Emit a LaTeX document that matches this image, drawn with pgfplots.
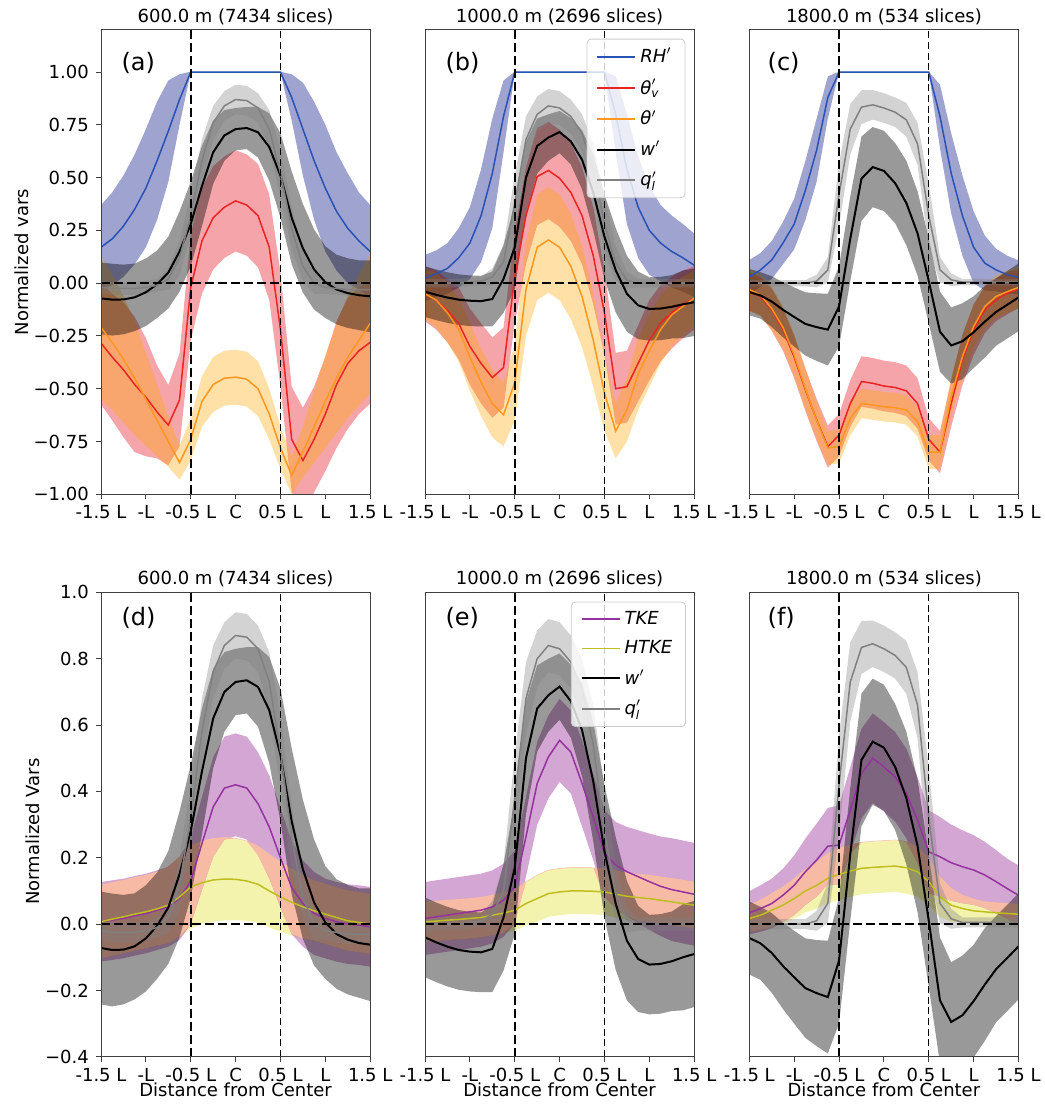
\documentclass[border=0pt]{standalone}
\usepackage{amsmath}
\usepackage{fontspec}
\setmainfont{DejaVu Sans}
\usepackage{pgfplots}
\pgfplotsset{compat=1.18}
\usepgfplotslibrary{fillbetween}
\usepackage{pgfplotstable}

\definecolor{rhc}{RGB}{42,82,180}
\definecolor{rhf}{RGB}{40,50,150}
\definecolor{tvc}{RGB}{235,35,35}
\definecolor{tvf}{RGB}{230,30,40}
\definecolor{thc}{RGB}{255,150,30}
\definecolor{thf}{RGB}{255,165,0}
\definecolor{qc}{RGB}{128,128,128}
\definecolor{tkc}{RGB}{150,50,160}
\definecolor{tkf}{RGB}{128,0,128}
\definecolor{htc}{RGB}{190,190,30}
\definecolor{htf}{RGB}{220,220,20}
\definecolor{ovc}{RGB}{247,186,164}

\pgfplotstableread{
x rhm rhs tvm tvs thm ths wm ws qm qs
-1.5 0.17 0.20 -0.284 0.29 -0.21 0.34 -0.072 0.17 -0.02 0.03
-1.375 0.21 0.22 -0.35 0.30 -0.28 0.32 -0.078 0.17 -0.025 0.03
-1.25 0.27 0.24 -0.41 0.32 -0.36 0.30 -0.077 0.165 -0.025 0.03
-1.125 0.35 0.26 -0.48 0.32 -0.45 0.27 -0.067 0.16 -0.025 0.03
-1 0.45 0.28 -0.54 0.28 -0.55 0.22 -0.043 0.16 -0.02 0.03
-0.875 0.58 0.28 -0.61 0.22 -0.65 0.17 -0.005 0.16 -0.01 0.03
-0.75 0.72 0.24 -0.672 0.19 -0.75 0.12 0.05 0.17 0.02 0.05
-0.625 0.87 0.12 -0.553 0.22 -0.85 0.08 0.15 0.19 0.12 0.08
-0.5 1 0.002 -0.02 0.25 -0.74 0.10 0.28 0.20 0.32 0.10
-0.375 1 0.002 0.20 0.25 -0.56 0.12 0.46 0.19 0.58 0.10
-0.25 1 0.002 0.31 0.245 -0.48 0.13 0.62 0.15 0.76 0.08
-0.125 1 0.002 0.36 0.24 -0.45 0.13 0.70 0.12 0.84 0.07
0 1 0.002 0.39 0.24 -0.445 0.13 0.73 0.10 0.87 0.07
0.125 1 0.002 0.37 0.24 -0.455 0.13 0.735 0.10 0.865 0.07
0.25 1 0.002 0.32 0.245 -0.50 0.13 0.715 0.12 0.83 0.07
0.375 1 0.002 0.17 0.25 -0.62 0.12 0.645 0.16 0.73 0.09
0.5 1 0.002 -0.22 0.27 -0.78 0.10 0.51 0.20 0.52 0.11
0.625 0.88 0.11 -0.74 0.25 -0.91 0.09 0.31 0.22 0.26 0.10
0.75 0.73 0.22 -0.84 0.25 -0.80 0.12 0.165 0.21 0.08 0.07
0.875 0.58 0.28 -0.74 0.25 -0.68 0.17 0.065 0.19 0.0 0.05
1 0.45 0.30 -0.62 0.27 -0.56 0.22 0.005 0.17 -0.02 0.03
1.125 0.34 0.28 -0.48 0.30 -0.45 0.26 -0.03 0.165 -0.025 0.03
1.25 0.26 0.26 -0.38 0.31 -0.35 0.29 -0.047 0.165 -0.03 0.03
1.375 0.20 0.23 -0.32 0.30 -0.27 0.31 -0.057 0.165 -0.03 0.03
1.5 0.15 0.22 -0.28 0.29 -0.19 0.33 -0.062 0.17 -0.03 0.03
}\ta

\pgfplotstableread{
x rhm rhs tvm tvs thm ths wm ws qm qs
-1.5 0.024 0.11 -0.05 0.13 -0.05 0.12 -0.04 0.12 0.0 0.02
-1.375 0.045 0.11 -0.08 0.14 -0.08 0.13 -0.055 0.12 0.0 0.02
-1.25 0.07 0.12 -0.13 0.15 -0.14 0.14 -0.068 0.12 0.0 0.02
-1.125 0.12 0.14 -0.19 0.17 -0.22 0.15 -0.078 0.12 0.0 0.02
-1 0.19 0.17 -0.30 0.18 -0.35 0.16 -0.083 0.12 0.005 0.02
-0.875 0.32 0.22 -0.38 0.19 -0.47 0.16 -0.085 0.12 0.01 0.02
-0.75 0.52 0.26 -0.447 0.19 -0.57 0.16 -0.075 0.13 0.03 0.04
-0.625 0.79 0.17 -0.40 0.19 -0.624 0.15 0.02 0.16 0.10 0.08
-0.5 1 0.002 0.03 0.22 -0.47 0.18 0.17 0.20 0.38 0.13
-0.375 1 0.002 0.32 0.23 -0.03 0.22 0.50 0.17 0.68 0.11
-0.25 1 0.002 0.505 0.23 0.17 0.25 0.65 0.13 0.80 0.085
-0.125 1 0.002 0.534 0.23 0.205 0.25 0.69 0.11 0.84 0.08
0 1 0.002 0.497 0.23 0.17 0.25 0.716 0.10 0.83 0.08
0.125 1 0.002 0.43 0.23 0.08 0.25 0.672 0.11 0.79 0.08
0.25 1 0.002 0.32 0.23 -0.063 0.24 0.585 0.14 0.71 0.09
0.375 1 0.002 0.13 0.23 -0.27 0.22 0.43 0.18 0.54 0.12
0.5 1 0.002 -0.14 0.20 -0.52 0.18 0.22 0.20 0.28 0.13
0.625 0.80 0.18 -0.50 0.17 -0.70 0.13 0.062 0.20 0.095 0.08
0.75 0.54 0.26 -0.49 0.17 -0.60 0.15 -0.05 0.18 0.015 0.04
0.875 0.36 0.24 -0.38 0.18 -0.43 0.17 -0.105 0.16 0.0 0.02
1 0.25 0.21 -0.27 0.19 -0.32 0.17 -0.122 0.15 0.0 0.02
1.125 0.19 0.18 -0.19 0.18 -0.22 0.16 -0.12 0.15 0.0 0.02
1.25 0.15 0.17 -0.14 0.17 -0.15 0.15 -0.112 0.15 0.0 0.02
1.375 0.12 0.16 -0.10 0.16 -0.11 0.14 -0.10 0.16 0.0 0.02
1.5 0.085 0.15 -0.07 0.15 -0.07 0.13 -0.09 0.16 0.0 0.02
}\tb

\pgfplotstableread{
x rhm rhs tvm tvs thm ths wm ws qm qs
-1.5 0.03 0.08 -0.04 0.09 -0.03 0.10 -0.042 0.11 0.0 0.015
-1.375 0.063 0.08 -0.063 0.09 -0.055 0.10 -0.058 0.11 0.0 0.015
-1.25 0.11 0.09 -0.126 0.10 -0.12 0.10 -0.087 0.12 0.0 0.015
-1.125 0.19 0.10 -0.22 0.10 -0.21 0.10 -0.126 0.13 0.0 0.015
-1 0.28 0.12 -0.35 0.10 -0.34 0.10 -0.16 0.14 0.0 0.015
-0.875 0.44 0.14 -0.505 0.10 -0.50 0.10 -0.193 0.15 0.0 0.015
-0.75 0.63 0.15 -0.648 0.10 -0.65 0.09 -0.208 0.16 0.01 0.03
-0.625 0.88 0.10 -0.774 0.10 -0.78 0.08 -0.22 0.17 0.063 0.06
-0.5 1 0.002 -0.72 0.10 -0.774 0.08 -0.11 0.19 0.42 0.15
-0.375 1 0.002 -0.57 0.11 -0.64 0.08 0.21 0.20 0.73 0.12
-0.25 1 0.002 -0.466 0.12 -0.57 0.07 0.495 0.20 0.834 0.08
-0.125 1 0.002 -0.474 0.12 -0.577 0.07 0.55 0.19 0.845 0.07
0 1 0.002 -0.487 0.12 -0.585 0.07 0.532 0.19 0.83 0.07
0.125 1 0.002 -0.494 0.12 -0.59 0.07 0.474 0.19 0.81 0.07
0.25 1 0.002 -0.51 0.12 -0.60 0.07 0.38 0.20 0.774 0.08
0.375 1 0.002 -0.57 0.12 -0.656 0.07 0.236 0.20 0.66 0.10
0.5 1 0.002 -0.74 0.10 -0.80 0.08 0.01 0.20 0.32 0.15
0.625 0.79 0.15 -0.80 0.10 -0.80 0.08 -0.23 0.19 0.063 0.06
0.75 0.52 0.19 -0.57 0.11 -0.537 0.09 -0.295 0.18 0.016 0.03
0.875 0.32 0.19 -0.363 0.12 -0.348 0.10 -0.275 0.18 0.005 0.015
1 0.17 0.17 -0.22 0.12 -0.205 0.10 -0.232 0.17 0.005 0.015
1.125 0.095 0.13 -0.126 0.11 -0.11 0.10 -0.182 0.17 0.005 0.015
1.25 0.063 0.10 -0.079 0.10 -0.063 0.10 -0.136 0.16 0.005 0.015
1.375 0.04 0.09 -0.047 0.10 -0.04 0.10 -0.102 0.16 0.005 0.015
1.5 0.028 0.08 -0.028 0.09 -0.02 0.10 -0.067 0.16 0.005 0.015
}\tc

\pgfplotstableread{
x tkm tks htm hts
-1.5 0.007 0.12 0.007 0.11
-1.375 0.012 0.12 0.015 0.11
-1.25 0.017 0.12 0.022 0.11
-1.125 0.025 0.12 0.03 0.11
-1 0.032 0.12 0.037 0.11
-0.875 0.042 0.12 0.046 0.11
-0.75 0.052 0.12 0.057 0.115
-0.625 0.077 0.125 0.082 0.12
-0.5 0.13 0.13 0.112 0.125
-0.375 0.243 0.14 0.125 0.125
-0.25 0.353 0.15 0.133 0.125
-0.125 0.41 0.155 0.136 0.125
0 0.42 0.155 0.135 0.123
0.125 0.41 0.155 0.13 0.12
0.25 0.363 0.155 0.12 0.115
0.375 0.293 0.155 0.10 0.11
0.5 0.20 0.15 0.082 0.105
0.625 0.11 0.14 0.066 0.10
0.75 0.062 0.13 0.052 0.095
0.875 0.032 0.125 0.04 0.09
1 0.017 0.12 0.03 0.09
1.125 0.007 0.12 0.02 0.09
1.25 0.0 0.12 0.01 0.09
1.375 -0.003 0.12 0.005 0.09
1.5 -0.008 0.12 0.0 0.09
}\td

\pgfplotstableread{
x tkm tks htm hts
-1.5 0.017 0.11 0.007 0.06
-1.375 0.022 0.11 0.009 0.06
-1.25 0.027 0.11 0.012 0.06
-1.125 0.032 0.11 0.014 0.06
-1 0.037 0.11 0.017 0.06
-0.875 0.042 0.11 0.02 0.06
-0.75 0.052 0.11 0.027 0.06
-0.625 0.072 0.11 0.033 0.06
-0.5 0.112 0.11 0.042 0.062
-0.375 0.263 0.12 0.062 0.065
-0.25 0.424 0.125 0.077 0.07
-0.125 0.504 0.125 0.092 0.07
0 0.554 0.125 0.097 0.07
0.125 0.519 0.125 0.10 0.07
0.25 0.424 0.13 0.10 0.07
0.375 0.323 0.13 0.099 0.07
0.5 0.213 0.13 0.097 0.07
0.625 0.178 0.13 0.09 0.07
0.75 0.158 0.135 0.084 0.07
0.875 0.143 0.14 0.08 0.07
1 0.128 0.145 0.077 0.07
1.125 0.114 0.15 0.072 0.07
1.25 0.104 0.155 0.067 0.07
1.375 0.097 0.155 0.062 0.07
1.5 0.09 0.155 0.057 0.07
}\te

\pgfplotstableread{
x tkm tks htm hts
-1.5 0.034 0.065 0.017 0.04
-1.375 0.047 0.07 0.027 0.045
-1.25 0.062 0.075 0.042 0.05
-1.125 0.087 0.08 0.057 0.055
-1 0.117 0.09 0.077 0.06
-0.875 0.158 0.10 0.10 0.065
-0.75 0.193 0.11 0.117 0.07
-0.625 0.235 0.115 0.138 0.075
-0.5 0.238 0.12 0.15 0.078
-0.375 0.343 0.13 0.16 0.078
-0.25 0.454 0.135 0.168 0.078
-0.125 0.50 0.135 0.171 0.078
0 0.474 0.135 0.173 0.078
0.125 0.444 0.135 0.175 0.078
0.25 0.394 0.135 0.17 0.078
0.375 0.313 0.13 0.158 0.075
0.5 0.218 0.125 0.128 0.07
0.625 0.203 0.12 0.082 0.06
0.75 0.185 0.115 0.057 0.05
0.875 0.173 0.11 0.047 0.04
1 0.163 0.105 0.04 0.035
1.125 0.148 0.10 0.037 0.03
1.25 0.128 0.095 0.034 0.03
1.375 0.107 0.09 0.032 0.03
1.5 0.087 0.09 0.03 0.03
}\tf

% band: #1 table, #2 mean column, #3 spread column, #4 fill style, #5 unique name
\newcommand{\band}[5]{%
  \addplot[draw=none, forget plot, name path=U#5] table[x=x, y expr=\thisrow{#2}+\thisrow{#3}] {#1};
  \addplot[draw=none, forget plot, name path=L#5] table[x=x, y expr=\thisrow{#2}-\thisrow{#3}] {#1};
  \addplot[#4, draw=none, forget plot] fill between[of=U#5 and L#5];
}
% common part of the TKE and HTKE bands
\newcommand{\ovband}[2]{%
  \addplot[draw=none, forget plot, name path=OU#2] table[x=x,
    y expr={min(\thisrow{tkm}+\thisrow{tks},\thisrow{htm}+\thisrow{hts})+0.0015}] {#1};
  \addplot[draw=none, forget plot, name path=OL#2] table[x=x,
    y expr={min(max(\thisrow{tkm}-\thisrow{tks},\thisrow{htm}-\thisrow{hts}),min(\thisrow{tkm}+\thisrow{tks},\thisrow{htm}+\thisrow{hts}))}] {#1};
  \addplot[fill=ovc, draw=none, forget plot] fill between[of=OU#2 and OL#2];
}
\newcommand{\refl}[2]{%
  \addplot[black, line width=0.8pt, dash pattern=on 4.5pt off 2pt, forget plot] coordinates {(-0.5,#1) (-0.5,#2)};
  \addplot[black, line width=0.55pt, dash pattern=on 3.5pt off 1.8pt, forget plot] coordinates {(0.5,#1) (0.5,#2)};
  \addplot[black, line width=0.8pt, dash pattern=on 4.5pt off 2pt, forget plot] coordinates {(-1.5,0) (1.5,0)};
}
\newcommand{\topcontent}[2]{%
  \band{#1}{rhm}{rhs}{fill=rhf, fill opacity=0.45}{#2rh}
  \band{#1}{tvm}{tvs}{fill=tvf, fill opacity=0.4}{#2tv}
  \band{#1}{thm}{ths}{fill=thf, fill opacity=0.35}{#2th}
  \band{#1}{wm}{ws}{fill=black, fill opacity=0.4}{#2w}
  \band{#1}{qm}{qs}{fill=gray, fill opacity=0.35}{#2q}
  \addplot[rhc, line width=0.75pt] table[x=x, y=rhm] {#1};
  \addplot[tvc, line width=0.75pt] table[x=x, y=tvm] {#1};
  \addplot[thc, line width=0.75pt] table[x=x, y=thm] {#1};
  \addplot[black, line width=1pt] table[x=x, y=wm] {#1};
  \addplot[qc, line width=0.75pt] table[x=x, y=qm] {#1};
  \refl{-1}{1.2}
}
\newcommand{\botcontent}[3]{%
  \band{#2}{htm}{hts}{fill=htf, fill opacity=0.35}{#3ht}
  \band{#2}{tkm}{tks}{fill=tkf, fill opacity=0.35}{#3tk}
  \ovband{#2}{#3ov}
  \band{#1}{wm}{ws}{fill=black, fill opacity=0.4}{#3w}
  \band{#1}{qm}{qs}{fill=gray, fill opacity=0.35}{#3q}
  \addplot[tkc, line width=0.75pt] table[x=x, y=tkm] {#2};
  \addplot[htc, line width=0.75pt] table[x=x, y=htm] {#2};
  \addplot[black, line width=1pt] table[x=x, y=wm] {#1};
  \addplot[qc, line width=0.75pt] table[x=x, y=qm] {#1};
  \refl{-0.4}{1.0}
}

\pgfplotsset{
  panel/.style={
    scale only axis, width=134.6pt, height=232.2pt, anchor=south west,
    xmin=-1.5, xmax=1.5,
    xtick={-1.5,-1,-0.5,0,0.5,1,1.5},
    xticklabels={-1.5 L,-L,-0.5 L,C,0.5 L,L,1.5 L},
    tick align=outside, xtick pos=left, ytick pos=left,
    major tick length=2.6pt,
    tick style={black!75, line width=0.5pt},
    axis line style={black!75, line width=0.5pt},
    ticklabel style={font=\fontsize{9}{10.8}\selectfont},
    xticklabel style={yshift=0.5pt},
    title style={font=\fontsize{9}{10.8}\selectfont, at={(0.5,1)}, anchor=base, yshift=-2.1pt},
    label style={font=\fontsize{9}{10.8}\selectfont},
    axis on top,
    legend cell align=left,
    legend image code/.code={\draw[##1] (0pt,0pt) -- (19pt,0pt);},
    legend style={at={(0.967,0.981)}, anchor=north east, draw=black!20,
      rounded corners=2pt, fill=white, fill opacity=0.8, text opacity=1,
      draw opacity=1, font=\fontsize{9}{11}\selectfont, row sep=2.6pt,
      inner xsep=4.6pt, inner ysep=2.5pt},
  },
  toprow/.style={ymin=-1, ymax=1.2},
  botrow/.style={ymin=-0.4, ymax=1.0,
    xlabel={Distance from Center},
    xlabel style={at={(axis description cs:0.5,0)}, anchor=base, yshift=-19.9pt}},
}

\begin{document}
\begin{tikzpicture}

% (a)
\begin{axis}[panel, toprow, at={(50.5pt,306.35pt)},
  title={600.0 m (7434 slices)},
  ytick={-1,-0.75,-0.5,-0.25,0,0.25,0.5,0.75,1},
  yticklabels={−1.00,−0.75,−0.50,−0.25,0.00,0.25,0.50,0.75,1.00},
  ylabel={Normalized vars},
  ylabel style={at={(axis description cs:-0.2695,0.5)}, anchor=base}]
\topcontent{\ta}{a}
\node[font=\fontsize{12}{14}\selectfont, anchor=base west] at (rel axis cs:0.05,0.912) {(a)};
\end{axis}

% (b)
\begin{axis}[panel, toprow, at={(212.5pt,306.35pt)},
  title={1000.0 m (2696 slices)}, ytick=\empty]
\topcontent{\tb}{b}
\legend{\textit{RH}$'$, $\textit{θ}'_{\textit{v}}$, \textit{θ}$'$, \textit{w}$'$, $\textit{q}'_{\textit{l}}$}
\node[font=\fontsize{12}{14}\selectfont, anchor=base west] at (rel axis cs:0.05,0.912) {(b)};
\end{axis}

% (c)
\begin{axis}[panel, toprow, at={(374.65pt,306.35pt)},
  title={1800.0 m (534 slices)}, ytick=\empty]
\topcontent{\tc}{c}
\node[font=\fontsize{12}{14}\selectfont, anchor=base west] at (rel axis cs:0.042,0.912) {(c)};
\end{axis}

% (d)
\begin{axis}[panel, botrow, at={(50.5pt,25.1pt)},
  title={600.0 m (7434 slices)},
  ytick={-0.4,-0.2,0,0.2,0.4,0.6,0.8,1.0},
  yticklabels={−0.4,−0.2,0.0,0.2,0.4,0.6,0.8,1.0},
  ylabel={Normalized Vars},
  ylabel style={at={(axis description cs:-0.2285,0.485)}, anchor=base}]
\botcontent{\ta}{\td}{d}
\node[font=\fontsize{12}{14}\selectfont, anchor=base west] at (rel axis cs:0.05,0.929) {(d)};
\end{axis}

% (e)
\begin{axis}[panel, botrow, at={(212.5pt,25.1pt)},
  title={1000.0 m (2696 slices)}, ytick=\empty,
  legend style={at={(0.969,0.98)}}]
\botcontent{\tb}{\te}{e}
\legend{\textit{TKE}, \textit{HTKE}, \textit{w}$'$, $\textit{q}'_{\textit{l}}$}
\node[font=\fontsize{12}{14}\selectfont, anchor=base west] at (rel axis cs:0.05,0.929) {(e)};
\end{axis}

% (f)
\begin{axis}[panel, botrow, at={(374.65pt,25.1pt)},
  title={1800.0 m (534 slices)}, ytick=\empty]
\botcontent{\tc}{\tf}{f}
\node[font=\fontsize{12}{14}\selectfont, anchor=base west] at (rel axis cs:0.042,0.929) {(f)};
\end{axis}

\pgfresetboundingbox
\path[use as bounding box] (0,0) rectangle (522pt,553.5pt);
\end{tikzpicture}
\end{document}
